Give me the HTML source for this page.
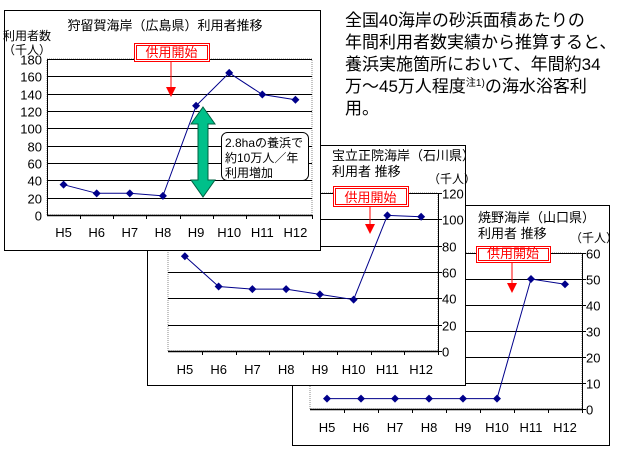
<!DOCTYPE html>
<html><head><meta charset="utf-8"><style>
body{margin:0;background:#fff;}
svg{display:block;font-family:"Liberation Sans","Noto Sans CJK JP",sans-serif;}
</style></head><body>
<svg id="s" width="620" height="450" viewBox="0 0 620 450">
<g font-size="17" fill="#000">
<text x="345" y="26">全国40海岸の砂浜面積あたりの</text>
<text x="345" y="48">年間利用者数実績から推算すると、</text>
<text x="345" y="70">養浜実施箇所において、年間約34</text>
<text x="345" y="92">万～45万人程度<tspan font-size="10" dy="-6">注1)</tspan><tspan dy="6">の海水浴客利</tspan></text>
<text x="345" y="114">用。</text>
</g>
</svg>
<script>
const categories=["H5","H6","H7","H8","H9","H10","H11","H12"];
const karugaValues=[35,25,25,22,126,164,139,133];
const karugaTicks=[0,20,40,60,80,100,120,140,160,180];
const horyuValues=[72,49,47,47,43,39,103,102];
const horyuTicks=[0,20,40,60,80,100,120];
const yakenoValues=[4,4,4,4,4,4,50,48];
const yakenoTicks=[0,10,20,30,40,50,60];

const NS="http://www.w3.org/2000/svg";
const svg=document.getElementById('s');
function mk(tag,attrs,parent){const e=document.createElementNS(NS,tag);for(const k in attrs)e.setAttribute(k,attrs[k]);(parent||svg).appendChild(e);return e;}
function txt(parent,x,y,s,size,anchor,fill){const t=mk('text',{x:x,y:y,'font-size':size,'text-anchor':anchor||'start',fill:fill||'#000'},parent);t.textContent=s;return t;}

function chart(cfg,values,ticks){
  const g=mk('g',{});
  
  
  const box=mk('rect',{x:cfg.box[0]+.5,y:cfg.box[1]+.5,width:cfg.box[2],height:cfg.box[3],fill:'#fff',stroke:'#000','stroke-width':1},g);
  
  
  const L=cfg.plot[0],R=cfg.plot[1],B=cfg.plot[2],T=cfg.plot[3];
  const maxV=ticks[ticks.length-1];
  const yS=v=>B-(v/maxV)*(B-T);
  const step=(R-L)/categories.length;
  const xS=i=>L+step*(i+0.5);
  const pa=mk('rect',{x:L,y:T,width:R-L,height:B-T,fill:'none',stroke:'#888','stroke-dasharray':'1,1'},g);
  
  
  ticks.forEach(v=>{
    const y=Math.round(yS(v))+.5;
    const gl=mk('line',{x1:L,x2:R,y1:y,y2:y,stroke:'#000','stroke-width':v===0?1.5:1},g);
    
    
    const tx=cfg.right?R+4:L-5;
    if(cfg.right)mk('line',{x1:R,x2:R+4,y1:y,y2:y,stroke:'#000'},g);
    const t=txt(g,tx,y+5,String(v),13,cfg.right?'start':'end');
    
    
  });
  mk('line',{x1:cfg.right?R+.5:L+.5,x2:cfg.right?R+.5:L+.5,y1:T,y2:B,stroke:'#000'},g);
  categories.forEach((c,i)=>{
    const x=Math.round(L+step*(i+1))+.5;
    mk('line',{x1:x,x2:x,y1:B,y2:B+4,stroke:'#000'},g);
    const t=txt(g,xS(i),cfg.xlabY,c,13,'middle');
    
    
  });
  const pts=values.map((v,i)=>xS(i).toFixed(1)+','+yS(v).toFixed(1)).join(' ');
  const line=mk('polyline',{points:pts,fill:'none',stroke:'#00008b','stroke-width':1},g);
  
  
  values.forEach((v,i)=>{
    const x=xS(i),y=yS(v);
    const m=mk('polygon',{points:`${x},${y-4} ${x+4},${y} ${x},${y+4} ${x-4},${y}`,fill:'#00008b'},g);
    
    
  });
  cfg.title.forEach((s,k)=>{
    const t=txt(g,cfg.titlePos[0],cfg.titlePos[1]+k*16,s,13,cfg.titleAnchor||'start');
    
    
  });
  cfg.unit.forEach((s,k)=>{
    const t=txt(g,cfg.unitPos[0],cfg.unitPos[1]+k*14,s,12);
    
    
  });
  // start label
  const sb=cfg.start;
  const sg=mk('g',{},g);
  
  
  mk('rect',{x:sb[0]+.5,y:sb[1]+.5,width:sb[2],height:sb[3],fill:'#fff',stroke:'#f00'},sg);
  mk('rect',{x:sb[0]+2.5,y:sb[1]+2.5,width:sb[2]-4,height:sb[3]-4,fill:'none',stroke:'#f00'},sg);
  txt(sg,sb[0]+sb[2]/2,sb[1]+sb[3]-4,'供用開始',13,'middle','#f00');
  const ax=sb[4];
  mk('line',{x1:ax,x2:ax,y1:sb[1]+sb[3],y2:sb[5]-9,stroke:'#f00'},sg);
  mk('polygon',{points:`${ax-5},${sb[5]-10} ${ax+5},${sb[5]-10} ${ax},${sb[5]}`,fill:'#f00'},sg);
  return g;
}

chart({name:'yakeno-chart',box:[292,205,317,240],plot:[310,582,409,253],right:true,xlabY:432,
  title:['焼野海岸（山口県）','利用者 推移'],titlePos:[478,222],unit:['（千人）'],unitPos:[570,242],
  start:[476,246,74,16,512,293]},yakenoValues,yakenoTicks);
chart({name:'horyu-chart',box:[147,145,318,240],plot:[168,438,351,193],right:true,xlabY:374,
  title:['宝立正院海岸（石川県）','利用者 推移'],titlePos:[332,160],unit:['（千人）'],unitPos:[428,183],
  start:[333,186,75,20,370,234]},horyuValues,horyuTicks);
chart({name:'karuga-chart',box:[4,10,316,240],plot:[47,312,215,59],right:false,xlabY:237,
  title:['狩留賀海岸（広島県）利用者推移'],titlePos:[165,30],titleAnchor:'middle',unit:['利用者数','（千人）'],unitPos:[3,40],
  start:[134,43,75,18,171,97]},karugaValues,karugaTicks);

// annotation arrow & callout on chart 1
const ann=mk('g',{});


mk('polygon',{points:'203,107 215,124 208,124 208,180 215,180 203,197 191,180 198,180 198,124 191,124',fill:'#00c08a',stroke:'#006040'},ann);
mk('rect',{x:221.5,y:132.5,width:87,height:48,rx:6,fill:'#fff',stroke:'#000'},ann);
txt(ann,225,147,'2.8haの養浜で',12);
txt(ann,225,162,'約10万人／年',12);
txt(ann,225,177,'利用増加',12);
</script>
</body></html>
